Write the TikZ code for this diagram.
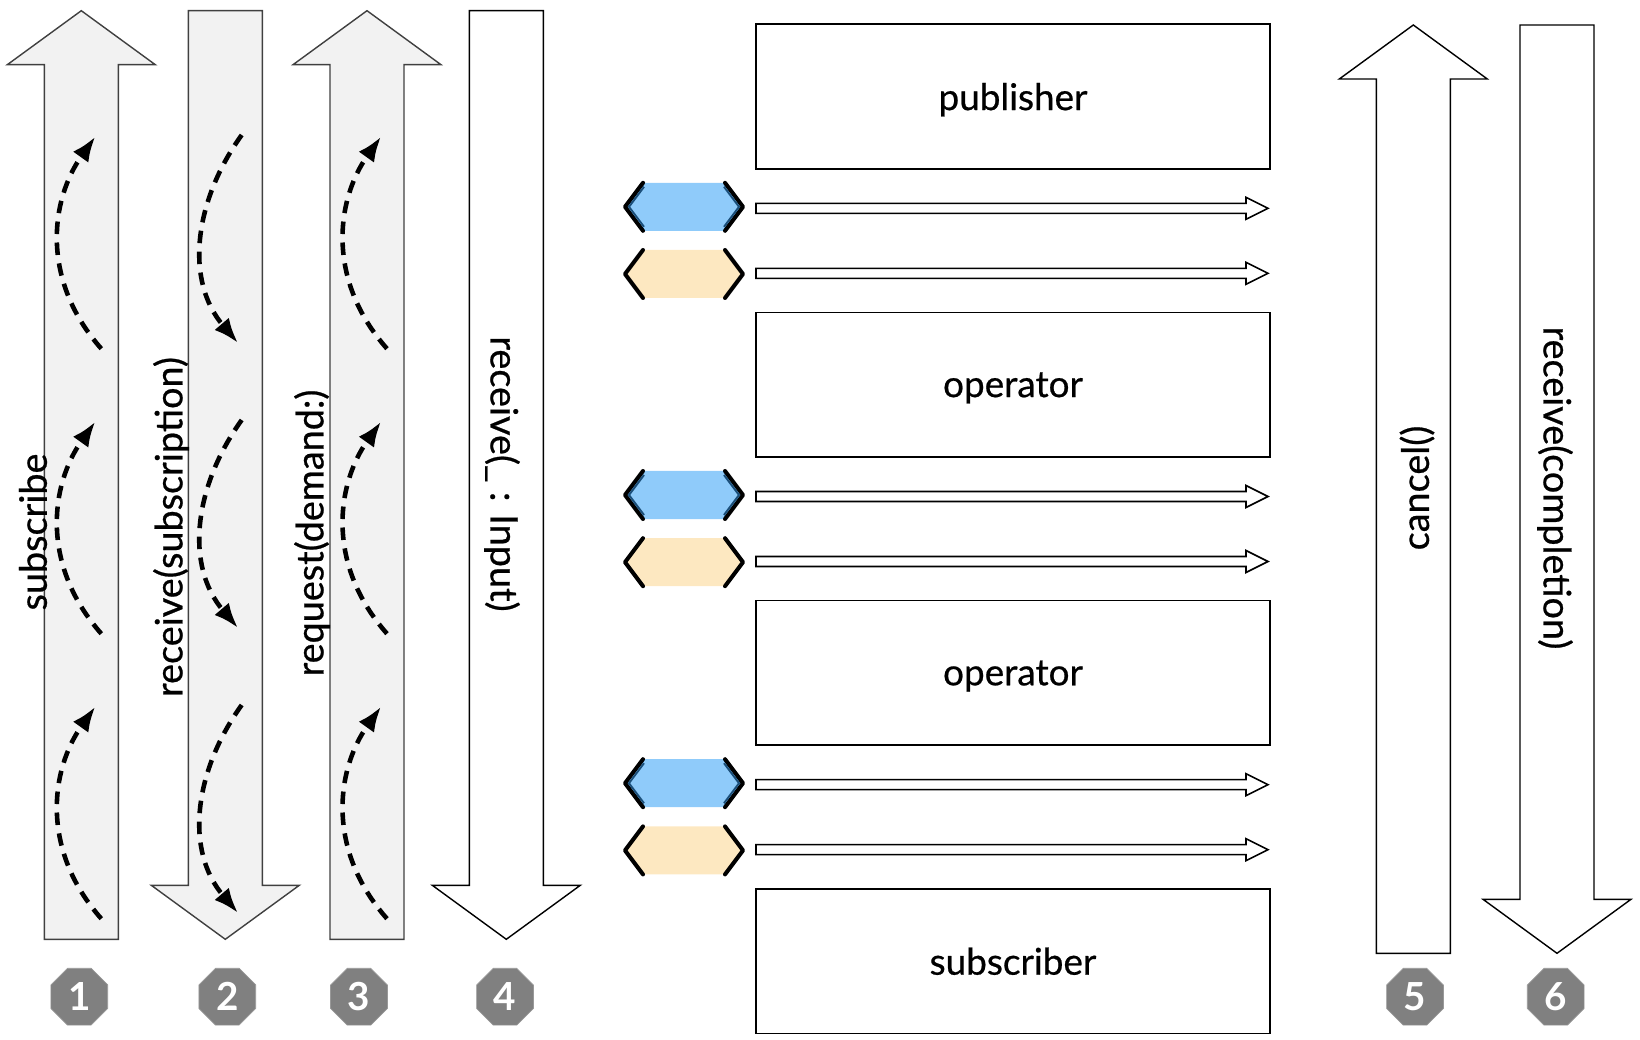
\documentclass[tikz,border=0pt]{standalone}
\usepackage{fontspec}
\setmainfont{Lato}
\newfontfamily\tagfont{Lato}[FakeBold=0.6]
\usepackage{xcolor}
\usetikzlibrary{shapes.geometric,arrows.meta}

\definecolor{shaftgray}{HTML}{F2F2F2}
\definecolor{valblue}{HTML}{8FCBFA}
\definecolor{valedge}{HTML}{1B4F7A}
\definecolor{donetan}{HTML}{FDE8C1}
\definecolor{badgegray}{HTML}{808080}

\begin{document}
\begin{tikzpicture}[x=0.02cm, y=-0.02cm,
  tag/.style={font=\tagfont\fontsize{21.5}{25}\selectfont, inner sep=0pt},
  stage/.style={draw, line width=0.9pt, minimum width=10.28cm, minimum height=2.89cm, text depth=0pt, font=\tagfont\fontsize{21}{25}\selectfont},
  badge/.style={regular polygon, regular polygon sides=8, fill=badgegray, draw=badgegray!80, minimum size=1.23cm, inner sep=0pt, text=white, font=\fontsize{22}{25}\selectfont\bfseries},
  hop/.style={dash pattern=on 0.25cm off 0.17cm, line width=2.6pt, -{Latex[length=0.5cm,width=0.38cm]}}]
\useasboundingbox (0,0) rectangle (1640,1040);

% up and down block arrows
\foreach \cx/\ytop/\ybot/\fc/\dc in {81.3/10.7/939.3/shaftgray/black!75, 367/10.7/939.3/shaftgray/black!75, 1413.3/25/953.3/white/black}
  \draw[fill=\fc, draw=\dc, line width=0.8pt] (\cx-37,\ybot) -- (\cx-37,\ytop+54) -- (\cx-74,\ytop+54) -- (\cx,\ytop) -- (\cx+74,\ytop+54) -- (\cx+37,\ytop+54) -- (\cx+37,\ybot) -- cycle;
\foreach \cx/\ytop/\ybot/\fc/\dc in {225.3/10.7/939.3/shaftgray/black!75, 506.3/10.7/939.3/white/black, 1557/25/953.3/white/black}
  \draw[fill=\fc, draw=\dc, line width=0.8pt] (\cx-37,\ytop) -- (\cx-37,\ybot-54) -- (\cx-74,\ybot-54) -- (\cx,\ybot) -- (\cx+74,\ybot-54) -- (\cx+37,\ybot-54) -- (\cx+37,\ytop) -- cycle;

% dashed hops
\foreach \cx in {81.3, 367}
  \foreach \k in {0,1,2} {
    \pgfmathsetmacro\yo{136.7+285*\k}
    \draw[hop] (\cx+20,\yo+212) .. controls (\cx-41,\yo+143) and (\cx-31,\yo+63) .. (\cx+14,\yo);
  }
\foreach \k in {0,1,2} {
  \pgfmathsetmacro\yo{135+285*\k}
  \draw[hop] (241.7,\yo) .. controls (194.3,\yo+66) and (184.3,\yo+145) .. (238,\yo+208);
}

\node[tag, rotate=90] (lsub) at (33,532) {subscribe};
\node[tag, rotate=90] (lrecsub) at (171,527) {receive(subscription)};
\node[tag, rotate=90] (lreq) at (312,533) {request(demand:)};
\node[tag, rotate=-90] (lrecin) at (502,474) {receive(\_ : Input)};
\node[tag, rotate=90] (lcancel) at (1417,488) {cancel()};
\node[tag, rotate=-90] (lrecdone) at (1555,488) {receive(completion)};

% chain of stages
\foreach \name/\txt [count=\k from 0] in {pub/publisher, op1/operator, op2/operator, sub/subscriber}
  \node[stage] (\name) at (1013,96.5+288.2*\k) {\txt};

% value and completion tokens
\foreach \k in {0,1,2} {
  \pgfmathsetmacro\yb{206.8+288.2*\k}
  \pgfmathsetmacro\yc{274+288.2*\k}
  \fill[valblue] (625,\yb) -- (643,\yb-24) -- (725,\yb-24) -- (743,\yb) -- (725,\yb+24) -- (643,\yb+24) -- cycle;
  \fill[donetan] (625,\yc) -- (643,\yc-24) -- (725,\yc-24) -- (743,\yc) -- (725,\yc+24) -- (643,\yc+24) -- cycle;
  \foreach \yy in {\yb,\yc}
    \draw[line width=2.3pt, line cap=round, line join=round] (643,\yy-24) -- (625,\yy) -- (643,\yy+24) (725,\yy-24) -- (743,\yy) -- (725,\yy+24);
  \draw[valedge, line width=1.1pt] (644,\yb-20) -- (629,\yb) -- (644,\yb+20) (724,\yb-20) -- (739,\yb) -- (724,\yb+20);
  \foreach \ya in {\yb+1.5,\yc-0.7}
    \draw[line width=0.9pt, fill=white] (756,\ya-5) -- (1246,\ya-5) -- (1246,\ya-11) -- (1268,\ya) -- (1246,\ya+11) -- (1246,\ya+5) -- (756,\ya+5) -- cycle;
}

\foreach \n/\bx in {1/79.3, 2/227.3, 3/359, 4/505, 5/1415, 6/1555.7}
  \node[badge] (b\n) at (\bx,996.7) {\n};

\end{tikzpicture}
\end{document}
